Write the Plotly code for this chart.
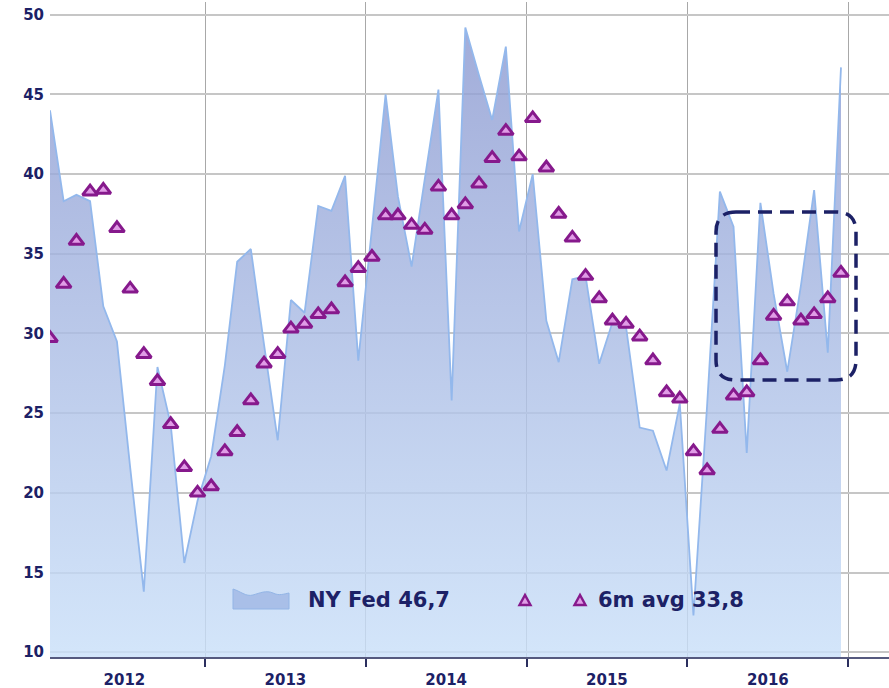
import plotly.graph_objects as go

# ---------------- data ----------------
months = [f"{y}-{m:02d}-15" for y in range(2012, 2017) for m in range(1, 13)]

ny_fed = [44.0, 38.3, 38.7, 38.3, 31.7, 29.5, 21.6, 13.8, 27.9, 24.3,
          15.6, 19.5, 22.3, 28.0, 34.5, 35.3, 29.3, 23.3, 32.1, 31.3,
          38.0, 37.7, 39.9, 28.3, 36.6, 45.0, 38.6, 34.2, 39.7, 45.3,
          25.8, 49.2, 46.2, 43.4, 48.0, 36.4, 40.0, 30.8, 28.2, 33.4,
          33.6, 28.1, 30.7, 30.4, 24.1, 23.9, 21.4, 25.6, 12.3, 25.5,
          38.9, 36.7, 22.5, 38.2, 32.5, 27.6, 33.0, 39.0, 28.8, 46.7]

avg_6m = [29.7, 33.1, 35.8, 38.9, 39.0, 36.6, 32.8, 28.7, 27.0, 24.3,
          21.6, 20.0, 20.4, 22.6, 23.8, 25.8, 28.1, 28.7, 30.3, 30.6,
          31.2, 31.5, 33.2, 34.1, 34.8, 37.4, 37.4, 36.8, 36.5, 39.2,
          37.4, 38.1, 39.4, 41.0, 42.7, 41.1, 43.5, 40.4, 37.5, 36.0,
          33.6, 32.2, 30.8, 30.6, 29.8, 28.3, 26.3, 25.9, 22.6, 21.4,
          24.0, 26.1, 26.3, 28.3, 31.1, 32.0, 30.8, 31.2, 32.2, 33.8]

legend_area = "NY Fed 46,7"
legend_avg = "6m avg 33,8"

NAVY = "#1c2166"

# ---------------- figure ----------------
W, H = 889, 688
ML, MR, MT, MB = 50, 0, 2, 31
PW, PH = W - ML - MR, H - MT - MB


def px(x):
    return (x - ML) / PW


def py(y):
    return (H - MB - y) / PH


fig = go.Figure()

fig.add_trace(go.Scatter(
    x=months, y=ny_fed, mode="lines", fill="tozeroy",
    line=dict(color="#93b8ec", width=1.8),
    fillgradient=dict(type="vertical", start=9.7, stop=50,
                      colorscale=[[0, "rgba(202,224,249,0.82)"],
                                  [1, "rgba(140,153,208,0.82)"]]),
    showlegend=False, hoverinfo="skip"))

fig.add_trace(go.Scatter(
    x=months, y=avg_6m, mode="markers",
    marker=dict(symbol="triangle-up", size=13, color="#e09ce6",
                line=dict(color="#86198c", width=3)),
    showlegend=False))

shapes = []

# highlighted dashed rounded box
x0, x1, y0, y1, r = 716, 856, 212, 380, 20
path = (f"M{px(x0+r)},{py(y0)} L{px(x1-r)},{py(y0)} Q{px(x1)},{py(y0)} {px(x1)},{py(y0+r)} "
        f"L{px(x1)},{py(y1-r)} Q{px(x1)},{py(y1)} {px(x1-r)},{py(y1)} "
        f"L{px(x0+r)},{py(y1)} Q{px(x0)},{py(y1)} {px(x0)},{py(y1-r)} "
        f"L{px(x0)},{py(y0+r)} Q{px(x0)},{py(y0)} {px(x0+r)},{py(y0)} Z")
shapes.append(dict(type="path", xref="paper", yref="paper", path=path,
                   line=dict(color=NAVY, width=3.5, dash="14px,8px")))

# legend area icon
icon = (f"M{px(233)},{py(609)} L{px(233)},{py(589)} "
        f"C{px(240)},{py(591)} {px(246)},{py(597)} {px(253)},{py(595)} "
        f"C{px(260)},{py(593)} {px(266)},{py(590)} {px(273)},{py(593)} "
        f"C{px(279)},{py(596)} {px(284)},{py(594)} {px(289)},{py(593)} "
        f"L{px(289)},{py(609)} Z")
shapes.append(dict(type="path", xref="paper", yref="paper", path=icon,
                   fillcolor="#a9bfe8", line=dict(color="#93b5e6", width=1)))

# legend triangles
for cx in (525, 580):
    tri = (f"M{px(cx-5.5)},{py(605)} L{px(cx+5.5)},{py(605)} "
           f"L{px(cx)},{py(595)} Z")
    shapes.append(dict(type="path", xref="paper", yref="paper", path=tri,
                       fillcolor="#e09ce6", line=dict(color="#86198c", width=2.4)))

annotations = [
    dict(xref="paper", yref="paper", x=px(306), y=py(600), xanchor="left",
         yanchor="middle", text=legend_area, showarrow=False,
         font=dict(family="DejaVu Sans", size=21, color=NAVY, weight="bold")),
    dict(xref="paper", yref="paper", x=px(596), y=py(600), xanchor="left",
         yanchor="middle", text=legend_avg, showarrow=False,
         font=dict(family="DejaVu Sans", size=21, color=NAVY, weight="bold")),
]

fig.update_layout(
    width=W, height=H,
    margin=dict(l=ML, r=MR, t=MT, b=MB, autoexpand=False),
    paper_bgcolor="white", plot_bgcolor="white",
    shapes=shapes, annotations=annotations,
    xaxis=dict(type="date", range=["2012-01-15", "2017-04-03"],
               tick0="2012-01-01", dtick="M12", tickformat="%Y",
               ticklabelmode="period", ticks="outside", ticklen=8,
               tickwidth=2, tickcolor="#2b2f5e",
               showgrid=True, gridcolor="#a8a8a8", gridwidth=1,
               showline=True, linecolor="#55597e", linewidth=2,
               zeroline=False, automargin=False,
               tickfont=dict(family="DejaVu Sans", size=15, color=NAVY, weight="bold")),
    yaxis=dict(range=[9.7, 50.8], tick0=10, dtick=5,
               showgrid=True, gridcolor="#c6c6c6", gridwidth=2,
               zeroline=False, showline=False, ticks="",
               ticklabelstandoff=5, automargin=False,
               tickfont=dict(family="DejaVu Sans", size=15, color=NAVY, weight="bold")),
)

fig.write_html("out.html",
               config={"displayModeBar": False},
               post_script="document.body.style.margin='0';"
                           "document.body.style.overflow='hidden';")
